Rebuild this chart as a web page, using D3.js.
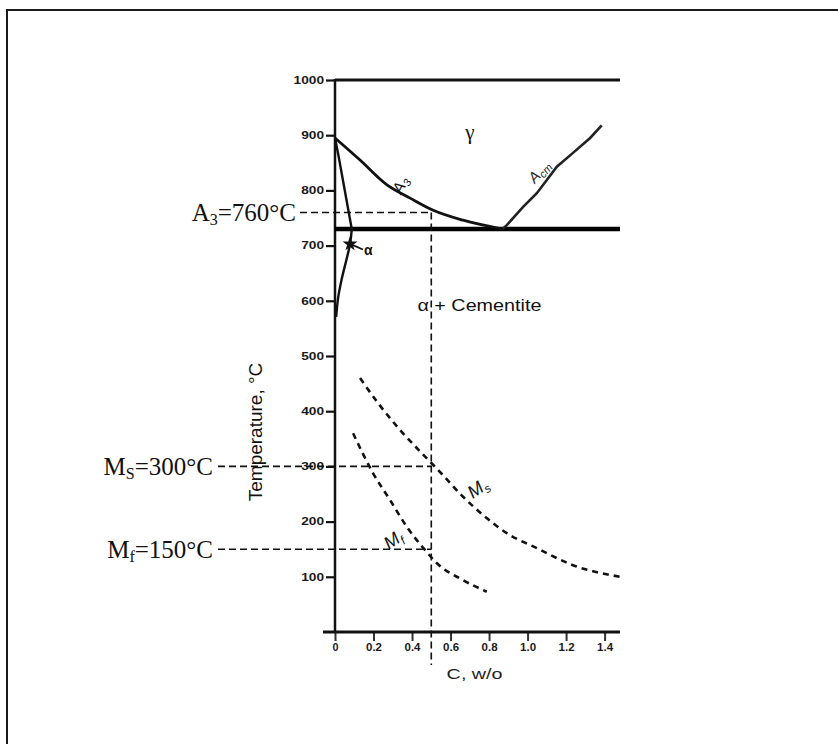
<!DOCTYPE html>
<html>
<head>
<meta charset="utf-8">
<script src="https://cdn.jsdelivr.net/npm/d3@7"></script>
<style>
  html, body { margin: 0; padding: 0; background: #fff; }
  svg { display: block; }
</style>
</head>
<body>
<div id="chart"></div>
<script>
// ---- data (carbon w/o, temperature °C) ----
const yTicks = [100, 200, 300, 400, 500, 600, 700, 800, 900, 1000];
const xTicks = [0, 0.2, 0.4, 0.6, 0.8, 1.0, 1.2, 1.4];
const xTickLabels = ["0", "0.2", "0.4", "0.6", "0.8", "1.0", "1.2", "1.4"];

const topLineT = 1000;
const eutectoidT = 730;
const a3Curve = [[0, 895], [0.13, 855], [0.27, 810], [0.39, 786], [0.51, 764], [0.665, 746], [0.87, 730]];
const acmCurve = [[0.87, 730], [0.892, 737], [0.977, 770], [1.048, 795], [1.1, 819], [1.152, 843], [1.236, 868], [1.325, 895], [1.385, 918]];
const alphaA3 = [[0, 895], [0.017, 865], [0.087, 730]];
const alphaSolvus = [[0.087, 730], [0.078, 703], [0.034, 638], [0.017, 607], [0.006, 571]];
const msCurve = [[0.13, 460], [0.223, 415], [0.338, 366], [0.442, 327], [0.509, 303], [0.561, 284], [0.665, 245], [0.769, 212], [0.892, 179], [1.048, 152], [1.236, 121], [1.48, 100]];
const mfCurve = [[0.094, 360], [0.197, 288], [0.286, 239], [0.372, 191], [0.476, 145], [0.528, 125], [0.665, 94], [0.788, 73]];

// reference (dashed) lines
const refCarbon = 0.5;
const refNames = ["A", "M", "M"];
const refSubs = ["3", "S", "f"];
const refTemps = [760, 300, 150];
const refValueText = ["=760°C", "=300°C", "=150°C"];

const W = 838, H = 744;
const svg = d3.select("#chart").append("svg")
    .attr("width", W)
    .attr("height", H);

// outer frame (only top and left edges show in the window)
svg.append("path")
    .attr("d", `M7,${H + 5}V10H${W + 5}`)
    .attr("fill", "none")
    .attr("stroke", "#1a1a1a")
    .attr("stroke-width", 2);

// scales
const x = d3.scaleLinear().domain([0, 1.48]).range([335, 620]);
const y = d3.scaleLinear().domain([0, 1000]).range([632, 80]);

const line = d3.line()
    .x(d => x(d[0]))
    .y(d => y(d[1]));

const plot = svg.append("g");
const sans = "Liberation Sans, Arial, sans-serif";

// --- axes ---
const yAxis = plot.append("g")
    .attr("transform", `translate(${x(0)},0)`)
    .call(d3.axisLeft(y).tickValues(yTicks).tickSize(9).tickPadding(2).tickFormat(d3.format("d")));
yAxis.select(".domain").remove();
yAxis.selectAll(".tick line").attr("stroke", "#111").attr("stroke-width", 2.2);
yAxis.selectAll(".tick text")
    .attr("font-family", sans)
    .attr("font-weight", "bold")
    .attr("font-size", 10)
    .attr("fill", "#1a1a1a")
    .attr("textLength", d => String(d).length * 7.6)
    .attr("lengthAdjust", "spacingAndGlyphs");

plot.append("line")
    .attr("x1", x(0)).attr("x2", x(0))
    .attr("y1", y(topLineT) - 1).attr("y2", y(0))
    .attr("stroke", "#111").attr("stroke-width", 2.5);

const xAxis = plot.append("g")
    .attr("transform", `translate(0,${y(0)})`)
    .call(d3.axisBottom(x).tickValues(xTicks).tickSize(9).tickPadding(3)
        .tickFormat((d, i) => xTickLabels[i]));
xAxis.select(".domain").remove();
xAxis.selectAll(".tick line").attr("stroke", "#333").attr("stroke-width", 2);
xAxis.selectAll(".tick text")
    .attr("font-family", sans)
    .attr("font-weight", "bold")
    .attr("font-size", 10)
    .attr("fill", "#1a1a1a")
    .attr("textLength", (d, i) => xTickLabels[i].length === 1 ? 6 : 16)
    .attr("lengthAdjust", "spacingAndGlyphs");

plot.append("line")
    .attr("x1", x(0) - 12).attr("x2", x(1.48))
    .attr("y1", y(0)).attr("y2", y(0))
    .attr("stroke", "#111").attr("stroke-width", 3);

// axis titles
svg.append("text")
    .attr("transform", `translate(262,${y(0) - 200}) rotate(-90)`)
    .attr("text-anchor", "middle")
    .attr("font-family", sans)
    .attr("font-size", 19)
    .attr("fill", "#111")
    .text("Temperature, °C");

svg.append("text")
    .attr("x", x(0.725)).attr("y", y(0) + 47)
    .attr("text-anchor", "middle")
    .attr("font-family", sans)
    .attr("font-size", 15)
    .attr("fill", "#222")
    .attr("textLength", 56)
    .attr("lengthAdjust", "spacingAndGlyphs")
    .text("C, w/o");

// --- phase boundaries ---
plot.append("line")
    .attr("x1", x(0)).attr("x2", x(1.48))
    .attr("y1", y(topLineT)).attr("y2", y(topLineT))
    .attr("stroke", "#111").attr("stroke-width", 3);

plot.append("line")
    .attr("x1", x(0)).attr("x2", x(1.48))
    .attr("y1", y(eutectoidT)).attr("y2", y(eutectoidT))
    .attr("stroke", "#000").attr("stroke-width", 4.5);

plot.append("path")
    .datum(a3Curve)
    .attr("d", line.curve(d3.curveMonotoneX))
    .attr("fill", "none").attr("stroke", "#111").attr("stroke-width", 2.8);

plot.append("path")
    .datum(acmCurve)
    .attr("d", line.curve(d3.curveLinear))
    .attr("fill", "none").attr("stroke", "#222").attr("stroke-width", 2.6);

plot.append("path")
    .datum(alphaA3)
    .attr("d", line.curve(d3.curveLinear))
    .attr("fill", "none").attr("stroke", "#111").attr("stroke-width", 2.4);

plot.append("path")
    .datum(alphaSolvus)
    .attr("d", line.curve(d3.curveCatmullRom))
    .attr("fill", "none").attr("stroke", "#111").attr("stroke-width", 2.4);

// martensite start / finish (dashed)
[msCurve, mfCurve].forEach(c => {
    plot.append("path")
        .datum(c)
        .attr("d", line.curve(d3.curveMonotoneX))
        .attr("fill", "none")
        .attr("stroke", "#111")
        .attr("stroke-width", 2.6)
        .attr("stroke-dasharray", "6,5");
});

// --- dashed reference lines ---
const refStartX = [300, 218, 218];
const refTextEnd = [296, 213, 213];

refTemps.forEach((t, i) => {
    plot.append("line")
        .attr("x1", refStartX[i]).attr("x2", x(refCarbon))
        .attr("y1", y(t)).attr("y2", y(t))
        .attr("stroke", "#111").attr("stroke-width", 1.6)
        .attr("stroke-dasharray", "7,4");

    const tx = svg.append("text")
        .attr("x", refTextEnd[i])
        .attr("y", y(t) + 9)
        .attr("text-anchor", "end")
        .attr("font-family", "Liberation Serif, Times New Roman, serif")
        .attr("font-size", 25)
        .attr("fill", "#111");
    tx.append("tspan").text(refNames[i]);
    tx.append("tspan").attr("font-size", 16).attr("dy", 4).text(refSubs[i]);
    tx.append("tspan").attr("dy", -4).text(refValueText[i]);
});

plot.append("line")
    .attr("x1", x(refCarbon)).attr("x2", x(refCarbon))
    .attr("y1", y(refTemps[0])).attr("y2", y(-60))
    .attr("stroke", "#111").attr("stroke-width", 1.6)
    .attr("stroke-dasharray", "7,4");

// --- region / curve labels ---
plot.append("text")
    .attr("x", x(0.7)).attr("y", y(893))
    .attr("text-anchor", "middle")
    .attr("font-family", "Liberation Serif, serif")
    .attr("font-size", 21).attr("fill", "#111")
    .text("γ");

plot.append("text")
    .attr("x", x(0.75)).attr("y", y(582))
    .attr("text-anchor", "middle")
    .attr("font-family", sans)
    .attr("font-size", 17).attr("fill", "#111")
    .attr("textLength", 124)
    .attr("lengthAdjust", "spacingAndGlyphs")
    .text("α + Cementite");

// A3 and Acm along their curves
plot.append("text")
    .attr("transform", `translate(${x(0.365)},${y(805)}) rotate(-62)`)
    .attr("text-anchor", "middle")
    .attr("font-family", sans).attr("font-style", "italic")
    .attr("font-size", 16).attr("fill", "#111")
    .call(t => {
        t.append("tspan").text("A");
        t.append("tspan").attr("font-size", 11).attr("dy", 3).text("3");
    });

plot.append("text")
    .attr("transform", `translate(${x(1.08)},${y(828)}) rotate(-48)`)
    .attr("text-anchor", "middle")
    .attr("font-family", sans).attr("font-style", "italic")
    .attr("font-size", 15).attr("fill", "#222")
    .call(t => {
        t.append("tspan").text("A");
        t.append("tspan").attr("font-size", 11).attr("dy", 3).text("cm");
    });

// Ms and Mf labels
plot.append("text")
    .attr("transform", `translate(${x(0.76)},${y(252)}) rotate(-35)`)
    .attr("text-anchor", "middle")
    .attr("font-family", sans).attr("font-style", "italic")
    .attr("font-size", 18).attr("fill", "#111")
    .call(t => {
        t.append("tspan").text("M");
        t.append("tspan").attr("font-size", 12).attr("dy", 4).text("s");
    });

plot.append("text")
    .attr("transform", `translate(${x(0.32)},${y(158)}) rotate(-35)`)
    .attr("text-anchor", "middle")
    .attr("font-family", sans).attr("font-style", "italic")
    .attr("font-size", 18).attr("fill", "#111")
    .call(t => {
        t.append("tspan").text("M");
        t.append("tspan").attr("font-size", 12).attr("dy", 4).text("f");
    });

// alpha marker with leader
const starC = 0.078, starT = 703;
plot.append("path")
    .attr("transform", `translate(${x(starC)},${y(starT)})`)
    .attr("d", d3.symbol(d3.symbolStar, 70)())
    .attr("fill", "#111");
plot.append("line")
    .attr("x1", x(starC)).attr("x2", x(0.145))
    .attr("y1", y(starT)).attr("y2", y(693))
    .attr("stroke", "#111").attr("stroke-width", 1.8);
plot.append("text")
    .attr("x", x(0.15)).attr("y", y(683))
    .attr("font-family", sans).attr("font-weight", "bold")
    .attr("font-size", 14).attr("fill", "#111")
    .text("α");
</script>
</body>
</html>
